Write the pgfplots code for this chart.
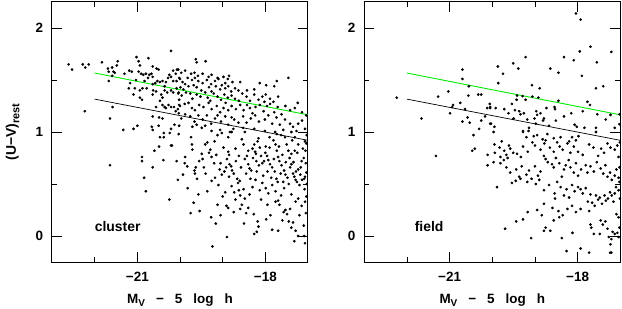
\documentclass[border=0pt]{standalone}
\usepackage{fontspec}
\setmainfont{Liberation Sans}
\usepackage{pgfplots}
\pgfplotsset{compat=1.18}
\definecolor{fitgreen}{RGB}{0,235,0}

\pgfplotsset{
  panel/.style={
    scale only axis, width=256bp, height=260bp,
    xmin=-23, xmax=-17, ymin=-0.25, ymax=2.25,
    xtick={-21,-18}, xticklabels={−21,−18},
    minor xtick={-22,-20,-19},
    ytick={0,1,2}, yticklabels={0,1,2},
    minor ytick={0.5,1.5},
    major tick length=10bp, minor tick length=5bp,
    tick style={black, line width=0.8bp},
    axis line style={line width=1bp},
    every tick label/.append style={font=\fontsize{13.5}{13.5}\selectfont\bfseries, inner sep=0pt},
    xticklabel style={anchor=base, yshift=-19.7bp},
    yticklabel style={anchor=east, xshift=-8.7bp},
    xlabel={M\raisebox{-2.5bp}{\fontsize{10}{10}\selectfont V}\hspace{11bp}−\hspace{11bp}5\hspace{11bp}log\hspace{11bp}h},
    xlabel style={font=\fontsize{13.5}{13.5}\selectfont\bfseries, at={(axis description cs:0.5,0)}, anchor=base, yshift=-41.5bp},
    clip=false,
  },
  pts/.style={only marks, mark=*, mark size=1.15bp, black},
}

\begin{document}
\begin{tikzpicture}
\begin{axis}[panel, at={(0,0)}, anchor=south west,
  ylabel={(U−V)\raisebox{-3.5bp}{\fontsize{11}{11}\selectfont rest}},
  ylabel style={font=\fontsize{14}{14}\selectfont\bfseries, at={(axis description cs:0,0.5)}, anchor=base, yshift=36bp}]
\addplot[pts] coordinates {
(-22.61,1.65) (-22.53,1.60) (-22.28,1.65) (-22.22,1.62) (-22.14,1.65) (-21.83,1.67) (-21.69,1.61) (-21.59,1.62) (-21.56,1.58) (-21.46,1.68) (-21.48,1.64) (-21.53,1.57) (-21.67,1.58) (-21.59,1.54) (-21.67,1.49) (-21.30,1.56) (-21.19,1.59) (-21.13,1.58) (-21.02,1.72) (-20.97,1.68) (-20.94,1.64) (-20.74,1.71) (-20.64,1.63) (-20.55,1.61) (-20.50,1.60) (-20.21,1.78) (-20.16,1.59) (-20.07,1.60) (-20.10,1.56) (-20.97,1.58) (-20.91,1.56) (-20.86,1.55) (-20.80,1.56) (-20.72,1.55) (-20.75,1.52) (-20.67,1.56) (-20.64,1.53) (-20.83,1.49) (-21.03,1.50) (-21.17,1.47) (-20.94,1.40) (-20.88,1.42) (-20.78,1.42) (-20.64,1.46) (-20.58,1.47) (-20.53,1.49) (-20.47,1.48) (-20.41,1.49) (-20.36,1.44) (-20.33,1.48) (-20.28,1.52) (-20.25,1.55) (-20.21,1.53) (-20.16,1.49) (-20.08,1.49) (-20.02,1.52) (-21.06,1.42) (-21.20,1.42) (-21.09,1.36) (-20.94,1.33) (-20.89,1.31) (-20.64,1.36) (-20.63,1.40) (-20.56,1.39) (-20.44,1.36) (-20.41,1.33) (-20.36,1.40) (-20.30,1.38) (-20.21,1.40) (-20.16,1.38) (-20.08,1.42) (-20.03,1.38) (-20.47,1.30) (-20.41,1.26) (-20.36,1.24) (-20.33,1.23) (-20.27,1.26) (-20.21,1.24) (-20.14,1.24) (-20.10,1.20) (-20.05,1.22) (-20.02,1.26) (-20.02,1.31) (-20.03,1.18) (-21.58,1.24) (-22.23,1.20) (-21.64,1.13) (-20.64,1.15) (-20.49,1.14) (-20.41,1.13) (-20.56,1.24) (-21.33,1.02) (-21.09,1.03) (-21.00,1.06) (-20.66,1.05) (-20.64,1.02) (-20.50,1.06) (-20.21,1.03) (-20.13,1.07) (-20.02,1.06)
(-19.63,1.70) (-19.61,1.67) (-19.40,1.68) (-20.04,1.60) (-19.97,1.57) (-19.88,1.59) (-19.74,1.56) (-19.66,1.57) (-19.58,1.54) (-19.47,1.56) (-19.33,1.53) (-19.26,1.55) (-19.12,1.52) (-18.98,1.53) (-18.88,1.51) (-18.85,1.54) (-18.59,1.48) (-18.13,1.47) (-17.73,1.49) (-17.46,1.52) (-17.79,1.44) (-17.98,1.45) (-18.26,1.41) (-18.43,1.40) (-20.00,1.51) (-19.94,1.48) (-19.88,1.46) (-19.82,1.52) (-19.72,1.50) (-19.65,1.52) (-19.57,1.49) (-19.68,1.45) (-19.61,1.43) (-19.47,1.47) (-19.37,1.50) (-19.27,1.46) (-19.18,1.49) (-19.10,1.51) (-19.02,1.45) (-18.94,1.47) (-18.87,1.44) (-18.77,1.48) (-18.71,1.42) (-18.63,1.40) (-19.99,1.43) (-19.92,1.41) (-19.80,1.44) (-19.50,1.40) (-19.32,1.43) (-19.26,1.39) (-19.16,1.44) (-19.06,1.41) (-18.94,1.42) (-18.80,1.39) (-20.04,1.37) (-19.96,1.35) (-19.86,1.38) (-19.76,1.37) (-19.71,1.32) (-19.61,1.36) (-19.52,1.34) (-19.41,1.38) (-19.35,1.33) (-19.29,1.30) (-19.21,1.37) (-19.12,1.34) (-19.04,1.31) (-18.96,1.36) (-18.88,1.33) (-18.79,1.35) (-18.71,1.32) (-18.62,1.30) (-18.54,1.37) (-18.44,1.34) (-18.36,1.30) (-18.26,1.36) (-18.16,1.31) (-18.07,1.34) (-17.99,1.36) (-17.89,1.32) (-17.81,1.29) (-17.70,1.34) (-18.02,1.29) (-20.00,1.25) (-19.89,1.27) (-19.80,1.28) (-19.72,1.23) (-19.65,1.21) (-19.55,1.26) (-19.45,1.24) (-19.33,1.28) (-19.26,1.22) (-19.14,1.25) (-19.06,1.19) (-18.98,1.23) (-18.93,1.28) (-18.87,1.21) (-18.79,1.25) (-18.69,1.22) (-18.59,1.26) (-18.51,1.21) (-18.43,1.26) (-18.36,1.23) (-18.30,1.18) (-18.23,1.24) (-18.13,1.26) (-18.04,1.20) (-17.96,1.25) (-17.89,1.27) (-17.79,1.19) (-17.71,1.24) (-17.62,1.17) (-17.53,1.25) (-17.42,1.21) (-17.31,1.23) (-17.24,1.28) (-17.14,1.19) (-17.04,1.16) (-19.97,1.13) (-19.88,1.17) (-19.76,1.15) (-19.66,1.10) (-19.57,1.16) (-19.47,1.12) (-19.37,1.16) (-19.27,1.08) (-19.18,1.13) (-19.12,1.16) (-19.04,1.10) (-18.94,1.15) (-18.87,1.07) (-18.79,1.14) (-18.73,1.12) (-18.63,1.09) (-18.52,1.15) (-18.44,1.09) (-18.34,1.13) (-18.24,1.16) (-18.15,1.10) (-18.01,1.12) (-17.93,1.16) (-17.84,1.08) (-17.74,1.14) (-17.66,1.07) (-17.54,1.12) (-17.42,1.08) (-17.35,1.05) (-17.23,1.08) (-17.14,1.11) (-17.07,1.03) (-19.71,1.05) (-19.61,1.07) (-19.49,1.04) (-19.41,1.06) (-19.26,1.01) (-19.06,1.02) (-18.83,1.00) (-18.75,1.03) (-18.52,1.04) (-18.26,1.03) (-18.01,1.01) (-17.77,1.00) (-17.58,1.02) (-17.39,1.00) (-17.27,1.01)
(-21.64,0.68) (-20.89,0.76) (-20.89,0.72) (-20.64,0.66) (-20.60,0.82) (-20.49,0.86) (-20.39,0.73) (-20.47,0.95) (-20.38,0.95) (-20.38,0.99) (-20.24,0.99) (-20.21,0.87) (-20.19,0.87) (-20.08,0.72) (-20.03,0.98) (-20.84,0.56) (-20.05,0.54) (-20.80,0.43) (-20.25,0.35)
(-19.74,0.95) (-19.72,0.88) (-19.71,0.83) (-19.88,0.76) (-19.89,0.70) (-19.83,0.67) (-19.93,0.59) (-19.66,0.63) (-19.63,0.66) (-19.65,0.60) (-19.49,0.79) (-19.47,0.74) (-19.41,0.88) (-19.36,0.90) (-19.32,0.80) (-19.29,0.83) (-19.26,0.76) (-19.19,0.91) (-19.12,0.97) (-19.05,0.70) (-19.07,0.64) (-19.02,0.59) (-18.96,0.62) (-18.92,0.66) (-18.87,0.81) (-18.85,0.78) (-18.84,0.69) (-18.80,0.67) (-18.74,0.60) (-18.69,0.72) (-18.66,0.55) (-18.64,0.51) (-18.73,0.42) (-18.62,0.44) (-18.59,0.39) (-18.55,0.93) (-18.51,0.88) (-18.48,0.74) (-18.43,0.77) (-18.40,0.69) (-18.37,0.65) (-18.33,0.63) (-18.30,0.84) (-18.29,0.75) (-18.26,0.88) (-18.24,0.81) (-18.22,0.79) (-18.21,0.72) (-18.18,0.91) (-18.16,0.94) (-18.13,0.85) (-18.10,0.77) (-18.07,0.70) (-18.03,0.72) (-17.99,0.86) (-17.96,0.77) (-17.93,0.73) (-17.89,0.69) (-17.84,0.66) (-17.81,0.92) (-17.76,0.88) (-17.73,0.82) (-17.70,0.76) (-17.67,0.72) (-17.62,0.68) (-17.56,0.63) (-17.53,0.59) (-17.48,0.56) (-17.42,0.66) (-17.39,0.69) (-17.35,0.60) (-17.32,0.57) (-17.29,0.54) (-17.26,0.52) (-17.23,0.64) (-17.18,0.59) (-17.14,0.54) (-17.09,0.55) (-17.07,0.57) (-17.04,0.61) (-17.15,0.72) (-17.10,0.75) (-17.06,0.82) (-17.04,0.89) (-17.07,0.91) (-17.23,0.88) (-17.31,0.82) (-17.39,0.79) (-17.46,0.82) (-17.54,0.95) (-17.63,0.97) (-17.73,0.98) (-17.90,0.95) (-17.31,0.95) (-18.48,1.00) (-18.79,1.00) (-19.02,0.99) (-18.87,0.95)
(-19.82,0.46) (-19.57,0.40) (-19.36,0.43) (-19.26,0.53) (-19.18,0.56) (-19.10,0.49) (-18.94,0.42) (-18.79,0.48) (-18.60,0.53) (-18.51,0.45) (-18.48,0.36) (-18.37,0.40) (-18.30,0.47) (-18.23,0.54) (-18.13,0.44) (-18.07,0.51) (-17.99,0.46) (-17.93,0.41) (-17.84,0.49) (-17.76,0.43) (-17.71,0.52) (-17.63,0.39) (-17.56,0.46) (-17.39,0.40) (-17.29,0.33) (-17.23,0.36) (-17.15,0.29) (-17.07,0.33) (-17.04,0.38) (-19.68,0.32) (-19.75,0.22) (-19.54,0.24) (-19.27,0.18) (-19.16,0.12) (-19.12,0.30) (-18.91,0.29) (-18.87,0.27) (-18.74,0.23) (-18.59,0.26) (-18.45,0.22) (-18.27,0.21) (-18.18,0.14) (-18.16,0.09) (-18.20,0.04) (-18.26,0.02) (-17.98,0.16) (-17.84,0.06) (-17.76,0.33) (-17.70,0.34) (-17.67,0.30) (-17.57,0.23) (-17.53,0.25) (-17.49,0.21) (-17.45,0.14) (-17.39,0.08) (-17.35,0.13) (-17.29,0.05) (-18.90,-0.01) (-19.24,-0.10) (-17.23,0.00) (-17.07,-0.07) (-17.09,0.00)
(-19.55,0.72) (-19.44,0.66) (-19.20,0.70) (-19.15,0.78) (-18.98,0.85) (-18.90,0.74) (-18.78,0.63) (-18.70,0.84) (-18.62,0.77) (-18.57,0.66) (-18.45,0.60) (-18.40,0.82) (-18.35,0.55) (-18.20,0.62) (-18.15,0.68) (-18.05,0.58) (-18.00,0.80) (-17.95,0.62) (-17.90,0.85) (-17.86,0.56) (-17.80,0.74) (-17.78,0.62) (-17.74,0.55) (-17.68,0.86) (-17.64,0.60) (-17.60,0.78) (-17.58,0.52) (-17.52,0.71) (-17.50,0.88) (-17.45,0.50) (-17.43,0.75) (-17.37,0.92) (-17.34,0.71) (-17.28,0.62) (-17.25,0.80) (-17.20,0.49) (-17.17,0.66) (-17.12,0.84) (-17.08,0.45) (-17.05,0.70) (-17.03,0.50) (-17.03,0.97) (-19.60,0.55) (-19.40,0.60) (-19.00,0.38) (-18.85,0.57) (-18.70,0.35) (-18.55,0.30) (-18.40,0.27) (-18.10,0.35) (-17.95,0.30) (-17.88,0.20) (-17.60,0.15) (-17.42,0.26) (-17.20,0.20) (-17.10,0.10) (-17.05,0.22) (-17.32,-0.05) (-17.70,0.05) (-18.50,0.12) (-19.05,0.20)
};
\addplot[fitgreen, line width=0.9bp] coordinates {(-22,1.567) (-17,1.165)};
\addplot[black, line width=0.7bp] coordinates {(-22,1.316) (-17,0.92)};
\node[font=\fontsize{14}{14}\selectfont\bfseries] at (axis cs:-21.46,0.09) {cluster};
\end{axis}

\begin{axis}[panel, at={(312.3bp,0)}, anchor=south west]
\addplot[pts] coordinates {
(-22.24,1.33) (-21.66,1.13) (-21.27,1.34) (-21.03,1.39) (-20.99,1.18) (-20.94,1.24) (-20.92,1.26) (-20.75,1.28) (-20.70,1.60) (-20.70,1.51) (-20.56,1.35) (-20.55,1.44) (-20.64,1.22) (-20.70,1.10) (-20.58,1.14) (-20.53,1.09) (-20.33,1.36) (-20.26,1.36) (-20.26,1.11) (-20.17,1.15) (-20.12,1.23) (-20.05,1.23) (-20.06,1.27) (-20.03,1.08) (-20.31,1.03)
(-18.04,2.14) (-17.93,2.08) (-17.70,1.82) (-18.32,1.72) (-18.09,1.69) (-17.95,1.775) (-17.55,1.67) (-17.21,1.77) (-19.22,1.72) (-19.51,1.66) (-19.39,1.61) (-19.87,1.63) (-19.75,1.56) (-19.86,1.47) (-18.64,1.61) (-18.45,1.57) (-17.90,1.54) (-17.57,1.42) (-17.40,1.44) (-19.07,1.45) (-18.89,1.42) (-19.42,1.35) (-19.43,1.31) (-19.29,1.345) (-19.22,1.31) (-19.06,1.34) (-18.92,1.33) (-18.45,1.30) (-17.77,1.29) (-17.71,1.26) (-20.05,1.24) (-19.92,1.23) (-19.72,1.22) (-19.62,1.18) (-19.54,1.27) (-19.47,1.21) (-19.37,1.20) (-19.34,1.17) (-19.26,1.18) (-18.97,1.20) (-18.95,1.165) (-18.87,1.18) (-18.79,1.13) (-18.73,1.23) (-18.54,1.24) (-18.53,1.22) (-18.32,1.15) (-18.15,1.18) (-17.88,1.20) (-17.54,1.17) (-17.23,1.165) (-17.02,1.17) (-20.05,1.08) (-19.95,1.05) (-19.50,1.13) (-19.18,1.12) (-19.01,1.13) (-18.98,1.08) (-18.81,1.11) (-18.67,1.06) (-18.51,1.11) (-18.07,1.07) (-18.02,1.05) (-17.84,1.04) (-17.57,1.04) (-17.57,1.00) (-17.34,1.12) (-17.13,1.04) (-17.02,1.075) (-19.28,1.00) (-19.14,1.04) (-19.15,1.01)
(-21.32,0.77) (-20.44,0.97) (-20.47,0.82) (-20.41,0.84) (-20.11,0.78) (-20.11,0.68)
(-19.97,1.00) (-19.28,1.01) (-19.20,0.95) (-19.03,0.96) (-18.95,0.97) (-18.82,0.93) (-18.75,0.92) (-18.71,0.98) (-18.56,0.94) (-18.40,0.95) (-18.20,0.91) (-18.13,0.95) (-17.98,0.96) (-18.04,0.92) (-17.57,1.00) (-19.95,0.88) (-19.94,0.80) (-19.83,0.85) (-19.78,0.91) (-19.72,0.82) (-19.67,0.78) (-19.61,0.87) (-19.58,0.84) (-19.51,0.80) (-19.81,0.76) (-19.73,0.73) (-19.64,0.75) (-19.97,0.71) (-19.81,0.70) (-19.42,0.79) (-19.33,0.76) (-19.28,0.86) (-19.17,0.81) (-19.06,0.90) (-19.00,0.87) (-18.87,0.83) (-18.78,0.89) (-18.65,0.85) (-18.56,0.81) (-18.48,0.90) (-18.42,0.86) (-18.35,0.83) (-18.24,0.89) (-18.17,0.80) (-18.09,0.86) (-17.99,0.81) (-17.88,0.78) (-17.73,0.88) (-17.63,0.85) (-17.52,0.77) (-17.45,0.84) (-17.38,0.80) (-17.30,0.89) (-17.23,0.85) (-17.13,0.83) (-17.04,0.76) (-17.07,0.87) (-17.01,0.90)
(-19.67,0.66) (-19.58,0.61) (-19.44,0.64) (-19.37,0.57) (-19.31,0.67) (-19.20,0.59) (-19.14,0.63) (-19.08,0.55) (-19.00,0.67) (-18.93,0.58) (-18.87,0.62) (-18.79,0.77) (-18.75,0.74) (-18.70,0.71) (-18.60,0.69) (-18.56,0.66) (-18.51,0.75) (-18.43,0.70) (-18.37,0.57) (-18.32,0.64) (-18.28,0.68) (-18.21,0.73) (-18.17,0.66) (-18.09,0.61) (-18.04,0.70) (-17.99,0.58) (-17.92,0.64) (-17.81,0.68) (-17.77,0.61) (-17.70,0.67) (-17.62,0.62) (-17.55,0.71) (-17.46,0.65) (-17.40,0.60) (-17.35,0.68) (-17.30,0.57) (-17.24,0.61) (-17.20,0.54) (-17.13,0.58) (-17.09,0.64) (-17.02,0.66) (-17.04,0.56) (-17.02,0.52)
(-19.89,0.47) (-19.54,0.51) (-19.45,0.53) (-19.34,0.55) (-19.18,0.52) (-18.98,0.50) (-18.90,0.54) (-18.79,0.44) (-18.67,0.49) (-18.54,0.41) (-18.53,0.36) (-18.48,0.52) (-18.40,0.47) (-18.32,0.39) (-18.26,0.45) (-18.20,0.37) (-18.13,0.49) (-18.07,0.43) (-17.99,0.47) (-17.93,0.45) (-17.88,0.41) (-17.81,0.46) (-17.76,0.33) (-17.70,0.40) (-17.66,0.32) (-17.60,0.29) (-17.57,0.39) (-17.52,0.35) (-17.48,0.37) (-17.43,0.31) (-17.37,0.39) (-17.34,0.34) (-17.29,0.36) (-17.24,0.42) (-17.20,0.39) (-17.16,0.33) (-17.13,0.41) (-17.10,0.47) (-17.04,0.44) (-17.01,0.36)
(-17.73,0.24) (-17.93,0.26) (-18.04,0.23) (-18.13,0.29) (-18.24,0.26) (-18.45,0.24) (-18.59,0.27) (-18.79,0.31) (-18.95,0.25) (-19.17,0.23) (-19.28,0.16) (-19.44,0.14) (-18.84,0.20) (-18.43,0.18) (-18.35,0.20) (-18.56,0.15) (-18.75,0.08) (-18.79,0.05) (-18.64,0.05) (-19.09,-0.02) (-19.70,0.07) (-18.37,-0.02) (-18.12,0.03) (-17.70,0.11) (-17.68,0.08) (-17.62,0.02) (-17.48,0.02) (-17.46,0.15) (-17.41,0.11) (-17.35,0.14) (-17.30,0.07) (-17.27,-0.01) (-17.21,-0.03) (-17.18,0.04) (-17.13,0.02) (-17.07,0.03) (-17.04,0.18) (-17.02,0.08) (-17.23,-0.08) (-17.24,-0.16) (-17.21,-0.16) (-17.09,0.21) (-18.26,-0.145) (-17.93,-0.12) (-17.73,-0.16) (-17.04,-0.01)
};
\addplot[fitgreen, line width=0.9bp] coordinates {(-22,1.567) (-17,1.165)};
\addplot[black, line width=0.7bp] coordinates {(-22,1.316) (-17,0.92)};
\node[font=\fontsize{14}{14}\selectfont\bfseries] at (axis cs:-21.48,0.09) {field};
\end{axis}
\pgfresetboundingbox
\useasboundingbox (-52bp,-47bp) rectangle (570bp,262bp);
\end{tikzpicture}
\end{document}
